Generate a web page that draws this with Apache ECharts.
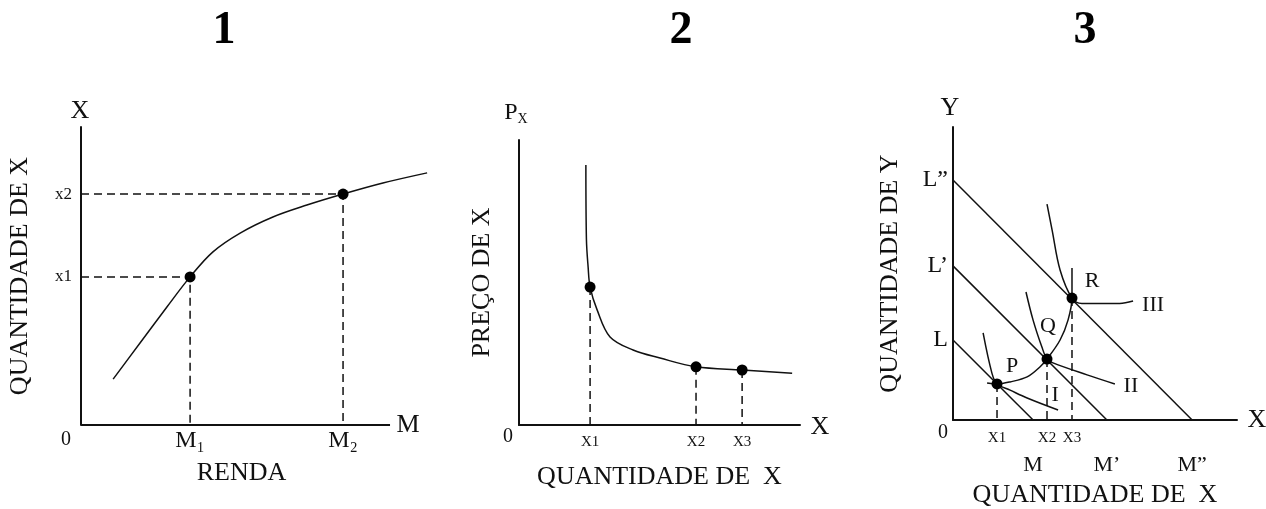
<!DOCTYPE html>
<html><head><meta charset="utf-8">
<script src="https://cdn.jsdelivr.net/npm/echarts@6/dist/echarts.min.js"></script>
<style>html,body{margin:0;background:#fff}#c{width:1266px;height:509px}</style>
</head><body><div id="c"></div>
<script>
// ---------- Panel 1: Engel curve ----------
const p1Curve = [[1.04,1.54],[1.91,2.75],[2.78,3.96],[3.53,4.97],[4.27,5.81],[5.15,6.44],[6.21,6.98],[7.31,7.38],[8.48,7.75],[9.77,8.12],[11.2,8.46]];
const p1Points = [[3.53,4.97],[8.48,7.75]];
const p1XTickLabels = ['M₁','M₂'];
const p1YTickLabels = ['x1','x2'];
// ---------- Panel 2: demand curve ----------
const p2Curve = [[2.38,9.12],[2.40,6.5],[2.46,5.54],[2.53,4.84],[2.78,4.04],[3.24,3.09],[4.06,2.63],[5.02,2.35],[6.30,2.04],[7.94,1.93],[9.72,1.82]];
const p2Points = [[2.53,4.84],[6.30,2.04],[7.94,1.93]];
const p2XTickLabels = ['X1','X2','X3'];
// ---------- Panel 3: budget lines & indifference curves ----------
const p3BudgetYIntercepts = [2.73,5.26,8.19];
const p3BudgetXIntercepts = [2.82,5.42,8.42];
const p3BudgetYLabels = ['L','L’','L”'];
const p3BudgetXLabels = ['M','M’','M”'];
const p3CurveI   = [[1.06,2.97],[1.37,1.60],[1.55,1.23],[2.01,1.02],[2.61,0.75],[3.70,0.34]];
const p3CurveII  = [[2.57,4.37],[2.82,3.41],[3.13,2.49],[3.31,2.08],[3.52,1.95],[4.72,1.54],[5.70,1.23]];
const p3CurveIII = [[3.31,7.37],[3.49,6.48],[3.77,5.12],[4.19,4.16],[4.54,3.98],[5.87,3.98],[6.34,4.06]];
const p3ICC = [[1.20,1.26],[1.55,1.23],[2.01,1.30],[2.61,1.47],[3.06,1.81],[3.31,2.08],[3.77,2.73],[4.05,3.41],[4.19,4.16],[4.19,5.19]];
const p3Points = [[1.55,1.23],[3.31,2.08],[4.19,4.16]];
const p3PointLabels = ['P','Q','R'];
const p3CurveLabels = ['I','II','III'];
const p3XTickLabels = ['X1','X2','X3'];
const panelTitles = ['1','2','3'];

const FONT = "'Liberation Serif','Times New Roman',serif";
const INK = '#111';

function lookup(values, labels) {
  return v => { const i = values.findIndex(t => Math.abs(t - v) < 1e-6); return i >= 0 ? labels[i] : ''; };
}
function valAxis(grid, extra) {
  return Object.assign({
    type: 'value', gridIndex: grid, min: 0, max: 10,
    axisLine: { show: true, onZero: false, lineStyle: { color: INK, width: 2 } },
    axisTick: { show: false }, splitLine: { show: false },
    axisLabel: { show: false },
    nameTextStyle: { fontFamily: FONT, fontSize: 26, color: INK }
  }, extra);
}
function tickLabels(values, labels, size, margin) {
  return { show: true, customValues: values, formatter: lookup(values, labels), fontFamily: FONT, fontSize: size, color: INK, margin: margin, showMinLabel: true, showMaxLabel: true };
}
function curve(x, y, data, w, smooth) {
  return { type: 'line', xAxisIndex: x, yAxisIndex: y, data: data, smooth: smooth === undefined ? 0.35 : smooth, showSymbol: false, clip: false, silent: true,
    lineStyle: { color: INK, width: w || 1.5 } };
}
function dashed(x, y, data) {
  return { type: 'line', xAxisIndex: x, yAxisIndex: y, data: data, showSymbol: false, clip: false, silent: true,
    lineStyle: { color: INK, width: 1.5, type: [8, 5] } };
}
function dots(x, y, data) {
  return { type: 'scatter', xAxisIndex: x, yAxisIndex: y, data: data, symbolSize: 11, clip: false, silent: true,
    itemStyle: { color: '#000', opacity: 1 }, z: 5 };
}
function notes(x, y, items) {
  return { type: 'scatter', xAxisIndex: x, yAxisIndex: y, symbolSize: 0, clip: false, silent: true,
    itemStyle: { color: '#000', opacity: 1 }, z: 6,
    data: items.map(it => ({ value: it.at, label: { show: true, position: 'inside', formatter: it.text, offset: it.off,
      fontFamily: FONT, fontSize: it.size || 26, color: INK, textBorderWidth: 0, rich: it.rich } })) };
}

const series = [];
// Panel 1 (x axis drawn as a series so the curve may run past its end)
series.push(curve(0, 0, [[0, 0], [10, 0]], 2, false));
series.push(curve(0, 0, p1Curve));
p1Points.forEach(p => series.push(dashed(0, 0, [[0, p[1]], p, [p[0], 0]])));
series.push(dots(0, 0, p1Points));
series.push(notes(0, 0, [
  { at: [0, 0], text: '0', off: [-15, 15], size: 20 },
  { at: [10, 0], text: 'M', off: [18, 0] },
  { at: [0, 10], text: 'X', off: [-1, -16] },
  { at: [5, 0], text: 'RENDA', off: [6, 48] }
]));
// Panel 2
series.push(curve(1, 1, p2Curve));
p2Points.forEach(p => series.push(dashed(1, 1, [p, [p[0], 0]])));
series.push(dots(1, 1, p2Points));
series.push(notes(1, 1, [
  { at: [0, 0], text: '0', off: [-11, 12], size: 20 },
  { at: [10, 0], text: 'X', off: [20, 2] },
  { at: [0, 10], text: '{p|P}{s|X}', off: [-3, -27], rich: {
      p: { fontFamily: FONT, fontSize: 24, color: INK },
      s: { fontFamily: FONT, fontSize: 14, color: INK, padding: [12, 0, 0, 0] } } }
]));
// Panel 3
p3BudgetYIntercepts.forEach((b, i) => series.push(curve(2, 2, [[0, b], [p3BudgetXIntercepts[i], 0]], 1.5, false)));
[p3CurveI, p3CurveII, p3CurveIII].forEach(c => series.push(curve(2, 2, c)));
series.push(curve(2, 2, p3ICC));
p3Points.forEach(p => series.push(dashed(2, 2, [p, [p[0], 0]])));
series.push(dots(2, 2, p3Points));
const curveEnds = [p3CurveI, p3CurveII, p3CurveIII].map(c => c[c.length - 1]);
const pointOff = [[15, -18], [1, -33], [20, -17]];
const curveOff = [[-3, -15], [16, 2], [20, 4]];
series.push(notes(2, 2, [
  { at: [0, 0], text: '0', off: [-10, 13], size: 20 },
  { at: [10, 0], text: 'X', off: [20, 0] },
  { at: [0, 10], text: 'Y', off: [-3, -19] }
].concat(p3Points.map((p, i) => ({ at: p, text: p3PointLabels[i], off: pointOff[i], size: 22 })))
 .concat(curveEnds.map((p, i) => ({ at: p, text: p3CurveLabels[i], off: curveOff[i], size: 22 })))));

const option = {
  animation: false,
  backgroundColor: '#fff',
  graphic: panelTitles.map((t, i) => ({ type: 'text', x: [224, 681, 1085][i], y: 31,
    style: { text: t, font: "bold 46px 'Liberation Serif', serif", fill: '#000', textAlign: 'center', textVerticalAlign: 'middle' } })),
  grid: [
    { left: 81, top: 127, width: 349.2, height: 298, outerBoundsMode: 'none', containLabel: false },
    { left: 519, top: 140, width: 281, height: 285, outerBoundsMode: 'none', containLabel: false },
    { left: 953, top: 127, width: 284, height: 293, outerBoundsMode: 'none', containLabel: false }
  ],
  xAxis: [
    valAxis(0, { max: 11.3, axisLine: { show: false },
      axisLabel: tickLabels(p1Points.map(p => p[0]), p1XTickLabels, 24, 4) }),
    valAxis(1, { name: 'QUANTIDADE DE  X', nameLocation: 'middle', nameGap: 39,
      axisLabel: tickLabels(p2Points.map(p => p[0]), p2XTickLabels, 15, 10) }),
    valAxis(2, { position: 'bottom', axisLabel: tickLabels(p3Points.map(p => p[0]), p3XTickLabels, 15, 11) }),
    valAxis(2, { position: 'bottom', offset: 0, axisLine: { show: false }, name: 'QUANTIDADE DE  X', nameLocation: 'middle', nameGap: 62,
      axisLabel: tickLabels(p3BudgetXIntercepts, p3BudgetXLabels, 22, 34) })
  ],
  yAxis: [
    valAxis(0, { name: 'QUANTIDADE DE X', nameLocation: 'middle', nameRotate: 90, nameGap: 48,
      axisLabel: tickLabels(p1Points.map(p => p[1]), p1YTickLabels, 17, 9) }),
    valAxis(1, { name: 'PREÇO DE X', nameLocation: 'middle', nameRotate: 90, nameGap: 24,
      axisLabel: { show: false } }),
    valAxis(2, { name: 'QUANTIDADE DE Y', nameLocation: 'middle', nameRotate: 90, nameGap: 50,
      axisLabel: tickLabels(p3BudgetYIntercepts, p3BudgetYLabels, 24, 5) })
  ],
  series: series
};
const chart = echarts.init(document.getElementById('c'), null, { renderer: 'canvas' });
chart.setOption(option);
</script></body></html>
